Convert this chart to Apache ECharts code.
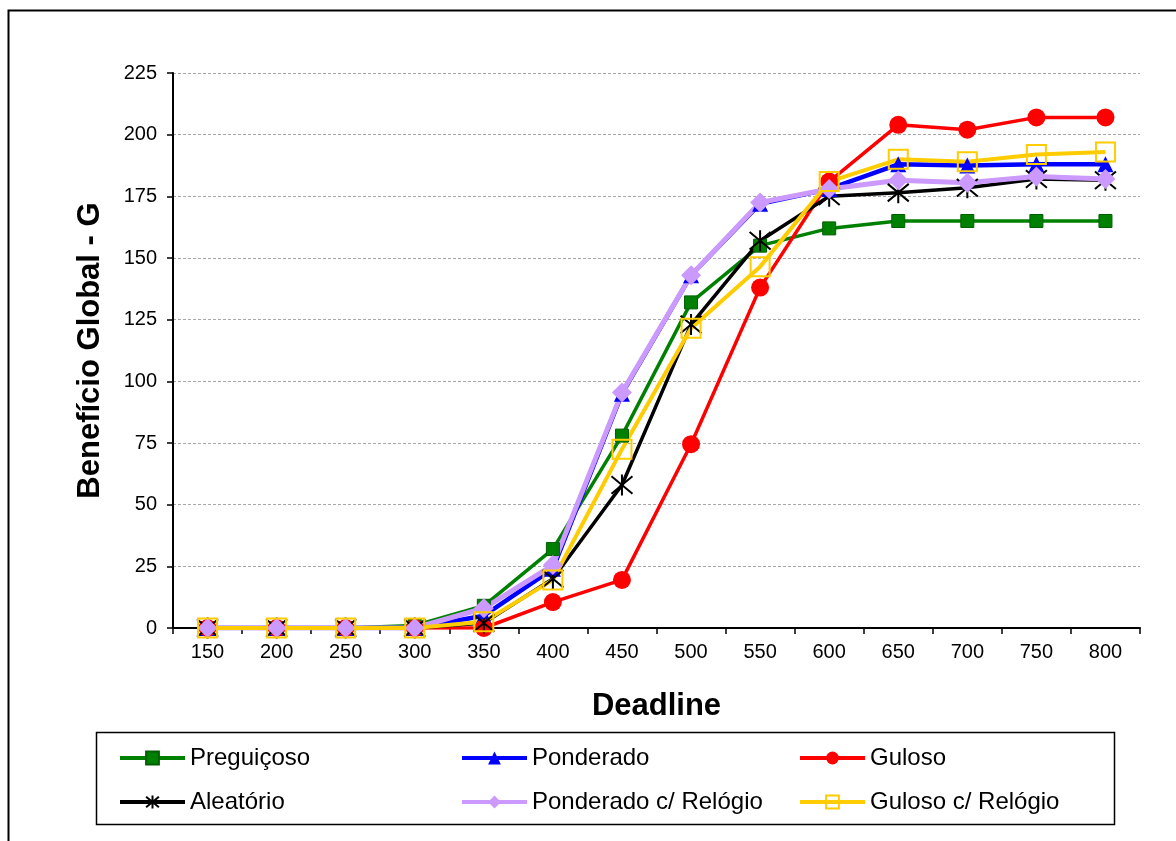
<!DOCTYPE html>
<html>
<head>
<meta charset="utf-8">
<script src="https://cdn.jsdelivr.net/npm/echarts@6/dist/echarts.min.js"></script>
<style>
html,body{margin:0;padding:0;background:#fff;}
#chart{width:1176px;height:841px;}
</style>
</head>
<body>
<div id="chart"></div>
<script>
const categories = ['150','200','250','300','350','400','450','500','550','600','650','700','750','800'];
const yTicks = [0,25,50,75,100,125,150,175,200,225];
const preguicoso = [0,0,0,1,9,32,78,132,155,162,165,165,165,165];
const ponderado = [0,0,0,0,5,24,95,143,172,178,188,187.5,188,188];
const guloso = [0,0,0,0,0,10.5,19.5,74.5,138,181,204,202,207,207];
const aleatorio = [0,0,0,0,2,20,58,123,157,175,176.5,178.5,182,181.5];
const ponderadoRelogio = [0,0,0,0,8,25.5,95.5,143,172.5,178,181.5,180.5,183,182];
const gulosoRelogio = [0,0,0,0,2.5,19.5,72.5,121.5,146.5,181,190,189,192,193];

const FONT = '"Liberation Sans", Arial, sans-serif';
const asterisk = 'path://M0 0L10 10M10 0L0 10M5 -1L5 11';

const chart = echarts.init(document.getElementById('chart'), null, {renderer:'canvas'});

function legendAt(name, left, top){
  return {
    data:[name], left:left, top:top, orient:'horizontal',
    itemWidth:65, itemHeight:16, padding:0,
    lineStyle:{width:4},
    textStyle:{fontFamily:FONT, fontSize:24, color:'#000'}
  };
}

const option = {
  backgroundColor:'#fff',
  animation:false,
  graphic:[
    {type:'rect', shape:{x:8.5,y:10.5,width:1300,height:1000}, style:{fill:'none', stroke:'#000', lineWidth:2}, silent:true, z:-1},
    {type:'rect', shape:{x:96.5,y:732.5,width:1018,height:92}, style:{fill:'none', stroke:'#000', lineWidth:1.5}, silent:true, z:-1}
  ],
  legend:[
    legendAt('Preguiçoso',118,746),
    legendAt('Ponderado',460,746),
    legendAt('Guloso',798,746),
    legendAt('Aleatório',118,790),
    legendAt('Ponderado c/ Relógio',460,790),
    legendAt('Guloso c/ Relógio',798,790)
  ],
  grid:{left:173, right:36, top:73, bottom:213, containLabel:false},
  xAxis:{
    type:'category', data:categories, boundaryGap:true,
    name:'Deadline', nameLocation:'middle', nameGap:63,
    nameTextStyle:{fontFamily:FONT, fontSize:31, fontWeight:'bold', color:'#000'},
    axisLine:{lineStyle:{color:'#000', width:2}},
    axisTick:{show:true, length:6, lineStyle:{color:'#000', width:1.5}},
    axisLabel:{fontFamily:FONT, fontSize:20, color:'#000', margin:14},
    splitLine:{show:false}
  },
  yAxis:{
    type:'value', min:0, max:225, interval:25,
    name:'Benefício Global - G', nameLocation:'middle', nameGap:67, nameRotate:90,
    nameTextStyle:{fontFamily:FONT, fontSize:31, fontWeight:'bold', color:'#000'},
    axisLine:{show:true, lineStyle:{color:'#000', width:2}},
    axisTick:{show:true, length:6, lineStyle:{color:'#000', width:1.5}},
    axisLabel:{fontFamily:FONT, fontSize:20, color:'#000', margin:16,
      formatter:function(v){ return yTicks.indexOf(v)>=0 ? String(v) : ''; }},
    splitLine:{show:true, lineStyle:{color:'#a8a8a8', width:1, type:[3,2]}}
  },
  series:[
    {name:'Preguiçoso', type:'line', data:preguicoso, symbol:'rect', symbolSize:13,
      lineStyle:{color:'#008000', width:3.5}, itemStyle:{color:'#008000', borderColor:'#006000', borderWidth:1}},
    {name:'Ponderado', type:'line', data:ponderado, symbol:'triangle', symbolSize:16,
      lineStyle:{color:'#0000FF', width:4.5}, itemStyle:{color:'#0000FF'}},
    {name:'Guloso', type:'line', data:guloso, symbol:'circle', symbolSize:18,
      lineStyle:{color:'#FF0000', width:3.5}, itemStyle:{color:'#FF0000'}},
    {name:'Aleatório', type:'line', data:aleatorio, symbol:asterisk, symbolSize:[21,21],
      lineStyle:{color:'#000000', width:3.5}, itemStyle:{color:'#000000', borderColor:'#000000', borderWidth:2}},
    {name:'Ponderado c/ Relógio', type:'line', data:ponderadoRelogio, symbol:'diamond', symbolSize:20,
      lineStyle:{color:'#CC99FF', width:5}, itemStyle:{color:'#CC99FF'}},
    {name:'Guloso c/ Relógio', type:'line', data:gulosoRelogio, symbol:'rect', symbolSize:19,
      lineStyle:{color:'#FFCC00', width:4}, itemStyle:{color:'rgba(255,255,255,0)', borderColor:'#FFCC00', borderWidth:2}}
  ]
};
chart.setOption(option);
</script>
</body>
</html>
